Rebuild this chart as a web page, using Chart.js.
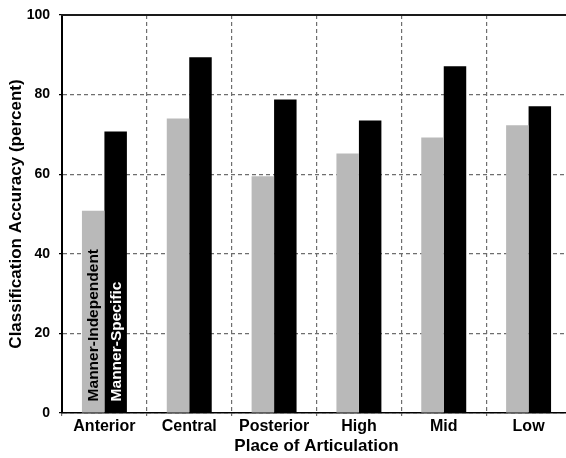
<!DOCTYPE html>
<html>
<head>
<meta charset="utf-8">
<script src="https://cdn.jsdelivr.net/npm/chart.js@4/dist/chart.umd.min.js"></script>
<style>
  html, body { margin: 0; padding: 0; background: #fff; overflow: hidden; }
  #wrap { width: 571px; height: 458px; }
</style>
</head>
<body>
<div id="wrap"><canvas id="c" width="571" height="458"></canvas></div>
<script>
// Place of articulation categories
const categories = ['Anterior', 'Central', 'Posterior', 'High', 'Mid', 'Low'];
// Classification accuracy (percent) per classifier type
const mannerIndependent = [50.8, 74.0, 59.5, 65.2, 69.2, 72.3];
const mannerSpecific = [70.7, 89.4, 78.8, 73.5, 87.1, 77.1];
const yTicks = [0, 20, 40, 60, 80, 100];

const FONT = "'Liberation Sans', Arial, Helvetica, sans-serif";

// Closes the plot frame along the top edge
const topBorder = {
  id: 'topBorder',
  afterDraw(chart) {
    const { ctx, chartArea } = chart;
    ctx.save();
    ctx.strokeStyle = '#1a1a1a';
    ctx.lineWidth = 2;
    ctx.beginPath();
    ctx.moveTo(chartArea.left - 1, chartArea.top);
    ctx.lineTo(chartArea.right, chartArea.top);
    ctx.stroke();
    ctx.restore();
  }
};

// Series names written vertically inside the first pair of bars
const barNames = {
  id: 'barNames',
  afterDatasetsDraw(chart) {
    const { ctx } = chart;
    chart.data.datasets.forEach((ds, i) => {
      const bar = chart.getDatasetMeta(i).data[0];
      if (!bar) return;
      ctx.save();
      ctx.translate(bar.x, bar.base - 11);
      ctx.rotate(-Math.PI / 2);
      ctx.font = 'bold 15.5px ' + FONT;
      ctx.fillStyle = ds.nameColor;
      ctx.textAlign = 'left';
      ctx.textBaseline = 'middle';
      ctx.fillText(ds.label, 0, 1);
      ctx.restore();
    });
  }
};

new Chart(document.getElementById('c'), {
  type: 'bar',
  data: {
    labels: categories,
    datasets: [
      { label: 'Manner-Independent', data: mannerIndependent, backgroundColor: '#b9b9b9', nameColor: '#000' },
      { label: 'Manner-Specific', data: mannerSpecific, backgroundColor: '#000', nameColor: '#fff' }
    ]
  },
  options: {
    responsive: false,
    animation: false,
    layout: { padding: { top: 15, left: 0, right: 0, bottom: 0 } },
    datasets: { bar: { categoryPercentage: 0.53, barPercentage: 1.0 } },
    plugins: { legend: { display: false }, tooltip: { enabled: false } },
    scales: {
      x: {
        offset: true,
        grid: {
          offset: true,
          color: '#6e6e6e',
          lineWidth: 1.2,
          tickLength: 3,
          tickColor: '#6e6e6e',
          tickBorderDash: [3, 3]
        },
        border: { display: true, color: '#000', width: 1.5, dash: [4, 3] },
        ticks: { color: '#000', font: { family: FONT, size: 16, weight: 'bold' }, padding: 1, maxRotation: 0 },
        title: { display: true, text: 'Place of Articulation', color: '#000', font: { family: FONT, size: 17, weight: 'bold' }, padding: { top: 0, bottom: 1 } },
        afterFit(scale) { scale.height = 45; scale.paddingLeft = 0; scale.paddingRight = 0; }
      },
      y: {
        min: 0,
        max: 100,
        afterBuildTicks(scale) { scale.ticks = yTicks.map(v => ({ value: v })); },
        grid: {
          color: '#6e6e6e',
          lineWidth: 1.2,
          tickLength: 3,
          tickColor: '#000',
          tickBorderDash: []
        },
        border: { display: true, color: '#000', width: 2, dash: [4, 3] },
        ticks: { color: '#000', font: { family: FONT, size: 14, weight: 'bold' }, padding: 9 },
        title: { display: true, text: 'Classification Accuracy (percent)', color: '#000', font: { family: FONT, size: 17, weight: 'bold' }, padding: { top: 6, bottom: 0 } },
        afterFit(scale) { scale.width = 62; scale.paddingTop = 0; scale.paddingBottom = 0; }
      }
    }
  },
  plugins: [topBorder, barNames]
});
</script>
</body>
</html>
